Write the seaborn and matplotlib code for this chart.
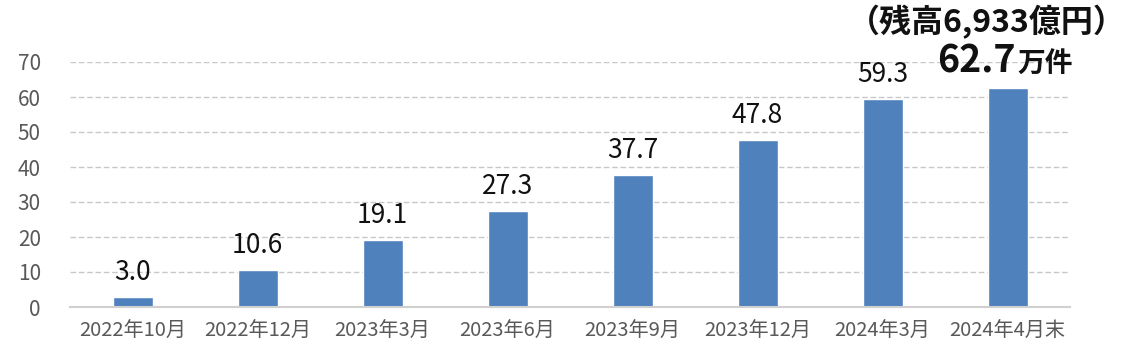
import matplotlib
matplotlib.use("Agg")
import matplotlib.pyplot as plt
import seaborn as sns
import pandas as pd

# data
periods = ["2022年10月", "2022年12月", "2023年3月", "2023年6月",
           "2023年9月", "2023年12月", "2024年3月", "2024年4月末"]
counts = [3.0, 10.6, 19.1, 27.3, 37.7, 47.8, 59.3, 62.7]
y_ticks = [0, 10, 20, 30, 40, 50, 60, 70]
last_unit = "万件"
balance_note = "（残高6,933億円）"

df = pd.DataFrame({"period": periods, "count": counts})

sns.set_style("white")
plt.rcParams["font.family"] = ["Noto Sans CJK JP", "DejaVu Sans"]

fig = plt.figure(figsize=(11.32, 3.59), dpi=100)
ax = fig.add_axes([70 / 1132, 52 / 359, 1000 / 1132, 245 / 359])

sns.barplot(data=df, x="period", y="count", color="#4F81BD", width=0.32,
            saturation=1, ax=ax)

ax.set_ylim(0, 70)
ax.set_xlim(-0.5, len(periods) - 0.5)
ax.set_yticks(y_ticks)
ax.set_xlabel("")
ax.set_ylabel("")
ax.tick_params(axis="y", labelsize=15, labelcolor="#595959", length=0, pad=21)
ax.tick_params(axis="x", labelsize=14.5, labelcolor="#595959", length=0, pad=10)

for s in ["top", "right", "left"]:
    ax.spines[s].set_visible(False)
ax.spines["bottom"].set_color("#d0d0d0")
ax.spines["bottom"].set_linewidth(1.5)

for yv in y_ticks[1:]:
    ax.axhline(yv, color="#c8c8c8", lw=1, ls=(0, (4, 2)), zorder=0)

# value labels
for i, v in enumerate(counts[:-1]):
    ax.annotate(f"{v:.1f}", (i, v), xytext=(0, 17), textcoords="offset pixels",
                ha="center", va="baseline", fontsize=19, color="#111111")

i_last = len(counts) - 1
v_last = counts[-1]
ax.annotate(f"{v_last:.1f}", (i_last, v_last), xytext=(8, 15),
            textcoords="offset pixels", ha="right", va="baseline",
            fontsize=27, fontweight="bold", color="#111111", annotation_clip=False)
ax.annotate(last_unit, (i_last, v_last), xytext=(10, 15),
            textcoords="offset pixels", ha="left", va="baseline",
            fontsize=20, fontweight="bold", color="#111111", annotation_clip=False)
ax.annotate(balance_note, (i_last, v_last), xytext=(-21, 55),
            textcoords="offset pixels", ha="center", va="baseline",
            fontsize=23, fontweight="bold", color="#111111", annotation_clip=False)

fig.savefig("out.png", dpi=100)
